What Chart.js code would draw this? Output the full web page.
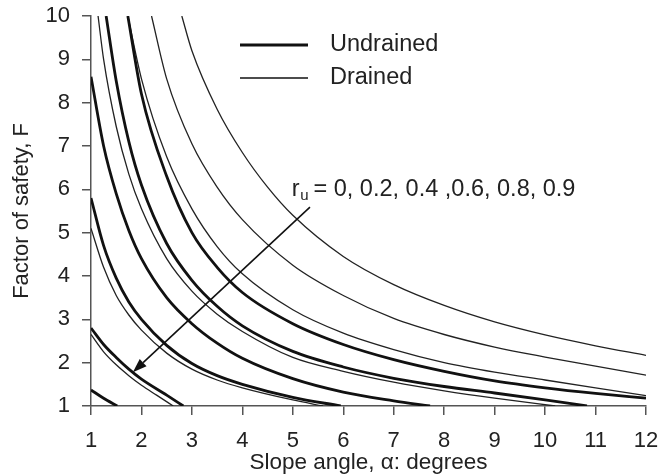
<!DOCTYPE html>
<html>
<head>
<meta charset="utf-8">
<script src="https://cdn.jsdelivr.net/npm/chart.js@4.4.0/dist/chart.umd.min.js"></script>
<style>
  body { margin: 0; background: #fff; }
  canvas { display: block; }
</style>
</head>
<body>
<canvas id="fs-chart" width="661" height="476"></canvas>
<script>
const FONT = "'Liberation Sans', Arial, sans-serif";

// tick labels
const xTicks = [1, 2, 3, 4, 5, 6, 7, 8, 9, 10, 11, 12];
const yTicks = [1, 2, 3, 4, 5, 6, 7, 8, 9, 10];

const ruValues = ['0', '0.2', '0.4', '0.6', '0.8', '0.9'];

// Undrained curves (thick), r_u = 0 ... 0.9
const u1x = [1.73, 2, 2.5, 3, 3.5, 4, 5, 6, 7, 8, 9, 10, 11, 12];
const u1y = [10, 8.2, 6.3, 5.0, 4.2, 3.62, 2.9, 2.42, 2.07, 1.8, 1.58, 1.42, 1.29, 1.18];
const u2x = [1.3, 1.5, 1.75, 2, 2.5, 3, 3.5, 4, 5, 6, 7, 8, 9, 10, 10.83];
const u2y = [10, 8.5, 7.1, 6.1, 4.75, 3.9, 3.3, 2.85, 2.26, 1.9, 1.64, 1.45, 1.3, 1.14, 1.0];
const u3x = [1, 1.25, 1.5, 1.75, 2, 2.5, 3, 3.5, 4, 5, 6, 7, 7.72];
const u3y = [8.6, 7.0, 5.9, 5.05, 4.4, 3.5, 2.9, 2.45, 2.1, 1.63, 1.32, 1.12, 1.0];
const u4x = [1, 1.25, 1.5, 1.75, 2, 2.5, 3, 3.5, 4, 5, 5.95];
const u4y = [5.8, 4.7, 3.95, 3.4, 3.0, 2.4, 1.98, 1.7, 1.5, 1.2, 1.0];
const u5x = [1, 1.25, 1.5, 1.75, 2, 2.5, 2.83];
const u5y = [2.8, 2.42, 2.12, 1.85, 1.62, 1.25, 1.0];
const u6x = [1, 1.25, 1.52];
const u6y = [1.37, 1.18, 1.0];

// Drained curves (thin), r_u = 0 ... 0.9
const d1x = [2.8, 3, 3.5, 4, 4.5, 5, 6, 7, 8, 9, 10, 11, 12];
const d1y = [10, 9.2, 7.85, 6.85, 6.05, 5.4, 4.45, 3.8, 3.32, 2.94, 2.64, 2.39, 2.17];
const d2x = [2.2, 2.5, 3, 3.5, 4, 5, 6, 7, 8, 9, 10, 11, 12];
const d2y = [10, 8.55, 7.05, 6.05, 5.3, 4.25, 3.55, 3.02, 2.65, 2.36, 2.13, 1.92, 1.71];
const d3x = [1.73, 2, 2.5, 3, 3.5, 4, 5, 6, 7, 8, 9, 10, 11, 12];
const d3y = [10, 8.55, 6.75, 5.55, 4.68, 4.05, 3.22, 2.68, 2.3, 2.0, 1.78, 1.6, 1.42, 1.24];
const d4x = [1.14, 1.25, 1.5, 1.75, 2, 2.5, 3, 3.5, 4, 5, 6, 7, 8, 9, 10.2];
const d4y = [10, 9.0, 7.45, 6.35, 5.55, 4.4, 3.65, 3.12, 2.72, 2.12, 1.8, 1.55, 1.35, 1.18, 1.0];
const d5x = [1, 1.25, 1.5, 1.75, 2, 2.5, 3, 3.5, 4, 5, 5.6];
const d5y = [5.1, 4.2, 3.55, 3.1, 2.75, 2.22, 1.85, 1.6, 1.42, 1.14, 1.0];
const d6x = [1, 1.25, 1.5, 1.75, 2, 2.3, 2.63];
const d6y = [2.65, 2.25, 1.95, 1.7, 1.48, 1.25, 1.0];

const undrained = [[u1x, u1y], [u2x, u2y], [u3x, u3y], [u4x, u4y], [u5x, u5y], [u6x, u6y]];
const drained = [[d1x, d1y], [d2x, d2y], [d3x, d3y], [d4x, d4y], [d5x, d5y], [d6x, d6y]];

// arrow across the curves (data units) and its label
const arrowFrom = [5.34, 5.59];
const arrowTo = [1.83, 1.78];
const labelAt = [4.98, 6.0];

function toPoints(xs, ys) {
    return xs.map((v, i) => ({ x: v, y: ys[i] }));
}

const datasets = [];
undrained.forEach((c, i) => {
    datasets.push({
        label: 'Undrained, ru = ' + ruValues[i],
        data: toPoints(c[0], c[1]),
        borderColor: '#111',
        borderWidth: 2.8,
        pointRadius: 0,
        cubicInterpolationMode: 'monotone',
        fill: false
    });
});
drained.forEach((c, i) => {
    datasets.push({
        label: 'Drained, ru = ' + ruValues[i],
        data: toPoints(c[0], c[1]),
        borderColor: '#222',
        borderWidth: 1.3,
        pointRadius: 0,
        cubicInterpolationMode: 'monotone',
        fill: false
    });
});

// legend, arrow and r_u label drawn on top of the curves
const extras = {
    id: 'extras',
    afterDatasetsDraw(chart) {
        const { ctx, scales: { x, y } } = chart;
        ctx.save();
        ctx.strokeStyle = '#111';
        ctx.fillStyle = '#222';

        // legend
        ctx.lineWidth = 2.8;
        ctx.beginPath(); ctx.moveTo(240, 45); ctx.lineTo(308, 45); ctx.stroke();
        ctx.lineWidth = 1.3;
        ctx.beginPath(); ctx.moveTo(240, 78); ctx.lineTo(308, 78); ctx.stroke();
        ctx.font = '23.5px ' + FONT;
        ctx.textBaseline = 'middle';
        ctx.fillText('Undrained', 330, 45);
        ctx.fillText('Drained', 330, 78);

        // arrow
        const x0 = x.getPixelForValue(arrowFrom[0]), y0 = y.getPixelForValue(arrowFrom[1]);
        const x1 = x.getPixelForValue(arrowTo[0]), y1 = y.getPixelForValue(arrowTo[1]);
        const ang = Math.atan2(y1 - y0, x1 - x0);
        const head = 14, half = 5;
        const bx = x1 - head * Math.cos(ang), by = y1 - head * Math.sin(ang);
        ctx.lineWidth = 1.6;
        ctx.beginPath(); ctx.moveTo(x0, y0); ctx.lineTo(bx, by); ctx.stroke();
        ctx.beginPath();
        ctx.moveTo(x1, y1);
        ctx.lineTo(bx + half * Math.sin(ang), by - half * Math.cos(ang));
        ctx.lineTo(bx - half * Math.sin(ang), by + half * Math.cos(ang));
        ctx.closePath();
        ctx.fillStyle = '#111';
        ctx.fill();

        // r_u label
        const lx = x.getPixelForValue(labelAt[0]), ly = y.getPixelForValue(labelAt[1]);
        ctx.fillStyle = '#222';
        ctx.font = '23.5px ' + FONT;
        ctx.textBaseline = 'middle';
        ctx.fillText('r', lx, ly);
        let w = ctx.measureText('r').width + 0.5;
        ctx.font = '15px ' + FONT;
        ctx.fillText('u', lx + w, ly + 7);
        w += ctx.measureText('u').width + 5;
        ctx.font = '23.5px ' + FONT;
        ctx.fillText('= ' + ruValues.slice(0, 3).join(', ') + ' ,' + ruValues.slice(3).join(', '), lx + w, ly);
        ctx.restore();
    }
};

const axisColor = '#555';

new Chart(document.getElementById('fs-chart'), {
    type: 'line',
    data: { datasets: datasets },
    options: {
        responsive: false,
        animation: false,
        layout: { padding: { top: 16, right: 15, left: 0, bottom: 0 } },
        plugins: {
            legend: { display: false },
            tooltip: { enabled: false }
        },
        scales: {
            x: {
                type: 'linear',
                min: 1,
                max: 12,
                afterBuildTicks: s => { s.ticks = xTicks.map(v => ({ value: v })); },
                afterFit: s => { s.height = 70; s.paddingLeft = 0; s.paddingRight = 0; },
                ticks: { color: '#222', padding: 13, maxRotation: 0, font: { family: FONT, size: 22 } },
                grid: { drawOnChartArea: false, color: axisColor, tickLength: 9, lineWidth: 1.5 },
                border: { color: axisColor, width: 1.5 },
                title: {
                    display: true,
                    text: 'Slope angle, \u03b1: degrees',
                    color: '#222',
                    font: { family: FONT, size: 22.5 },
                    padding: { top: 0, bottom: 0 }
                }
            },
            y: {
                type: 'linear',
                min: 1,
                max: 10,
                afterBuildTicks: s => { s.ticks = yTicks.map(v => ({ value: v })); },
                afterFit: s => { s.width = 91; s.paddingTop = 0; s.paddingBottom = 0; },
                ticks: { color: '#222', padding: 12, font: { family: FONT, size: 22 } },
                grid: { drawOnChartArea: false, color: axisColor, tickLength: 9, lineWidth: 1.5 },
                border: { color: axisColor, width: 1.5 },
                title: {
                    display: true,
                    text: 'Factor of safety, F',
                    color: '#222',
                    font: { family: FONT, size: 22 },
                    padding: { top: 9, bottom: 0 }
                }
            }
        }
    },
    plugins: [extras]
});
</script>
</body>
</html>
